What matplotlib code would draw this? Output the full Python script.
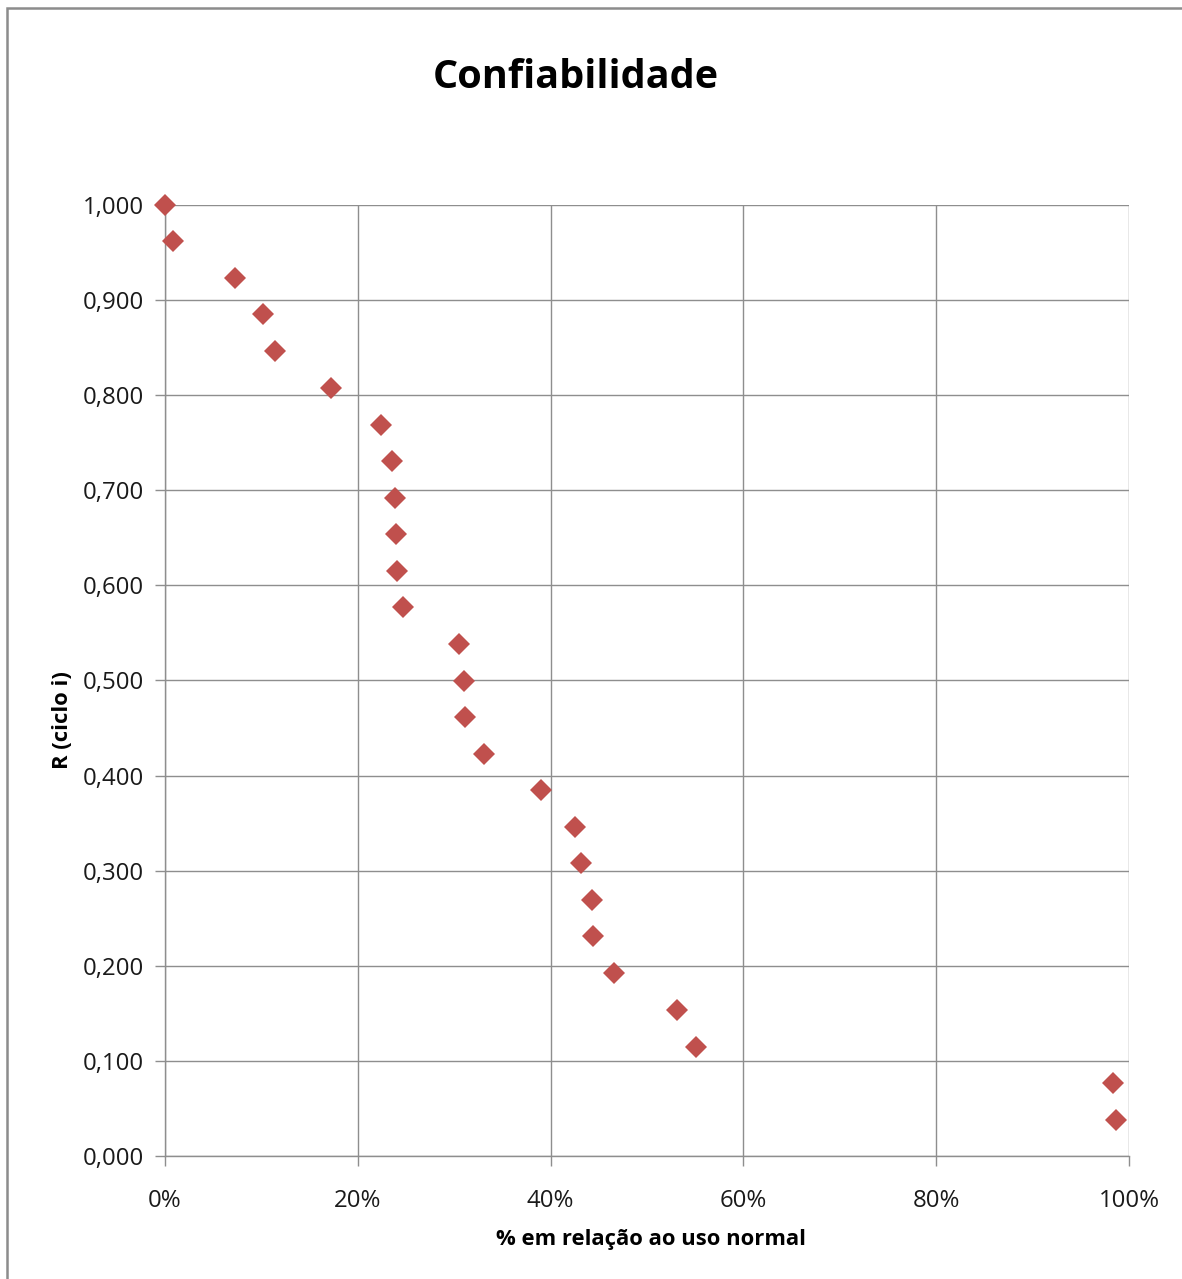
import matplotlib
matplotlib.use("Agg")
import matplotlib.pyplot as plt
from matplotlib.ticker import FuncFormatter, MultipleLocator
from matplotlib.patches import Rectangle

# Share of normal use (fraction) and reliability R for each cycle
uso_normal = [0.000, 0.008, 0.073, 0.102, 0.114, 0.172, 0.224, 0.235, 0.239,
              0.240, 0.241, 0.247, 0.305, 0.310, 0.311, 0.331, 0.390, 0.425,
              0.432, 0.443, 0.444, 0.466, 0.531, 0.551, 0.983, 0.987]
confiabilidade = [1.000, 0.962, 0.923, 0.885, 0.846, 0.808, 0.769, 0.731, 0.692,
                  0.654, 0.615, 0.577, 0.538, 0.500, 0.462, 0.423, 0.385, 0.346,
                  0.308, 0.269, 0.231, 0.192, 0.154, 0.115, 0.077, 0.038]

titulo = "Confiabilidade"
rotulo_x = "% em relação ao uso normal"
rotulo_y = "R (ciclo i)"

plt.rcParams["font.family"] = ["Open Sans", "DejaVu Sans"]

W, H = 1182, 1279
fig = plt.figure(figsize=(W / 100, H / 100), dpi=100)
fig.patch.set_facecolor("white")

# outer chart frame (left and top edges visible)
fig.add_artist(Rectangle((7 / W, -0.05), 1.1, 1.05 - 8 / H,
                         transform=fig.transFigure, fill=False,
                         edgecolor="#8c8c8c", linewidth=1.8))

ax = fig.add_axes([165 / W, 1 - 1156 / H, (1129 - 165) / W, (1156 - 205) / H])

grid_col = "#8e8e8e"
ax.set_xlim(0, 1)
ax.set_ylim(0, 1)
ax.xaxis.set_major_locator(MultipleLocator(0.2))
ax.yaxis.set_major_locator(MultipleLocator(0.1))
ax.xaxis.set_major_formatter(FuncFormatter(lambda v, p: f"{v * 100:.0f}%"))
ax.yaxis.set_major_formatter(FuncFormatter(lambda v, p: f"{v:.3f}".replace(".", ",")))
ax.grid(True, color=grid_col, linewidth=1.0)
ax.set_axisbelow(True)
for side in ("top", "right"):
    ax.spines[side].set_visible(False)
for side in ("left", "bottom"):
    ax.spines[side].set_color(grid_col)
    ax.spines[side].set_linewidth(1.0)
ax.tick_params(axis="both", direction="out", length=7, width=1.0,
               color=grid_col, labelsize=17.3, labelcolor="#1a1a1a")
ax.tick_params(axis="x", pad=17)
ax.tick_params(axis="y", pad=8)

ax.plot(uso_normal, confiabilidade, linestyle="none", marker="D",
        markersize=11.5, color="#C0504D", markeredgewidth=0, clip_on=False,
        zorder=3)

fig.text(576 / W, 1 - 78 / H, titulo, ha="center", va="center",
         fontsize=28.5, fontweight="bold", color="black")
fig.text(651 / W, 1 - 1240 / H, rotulo_x, ha="center", va="center",
         fontsize=15.8, fontweight="bold", color="black")
fig.text(62 / W, 1 - 720 / H, rotulo_y, ha="center", va="center",
         rotation=90, fontsize=15.8, fontweight="bold", color="black")

fig.savefig("out.png", dpi=100)
